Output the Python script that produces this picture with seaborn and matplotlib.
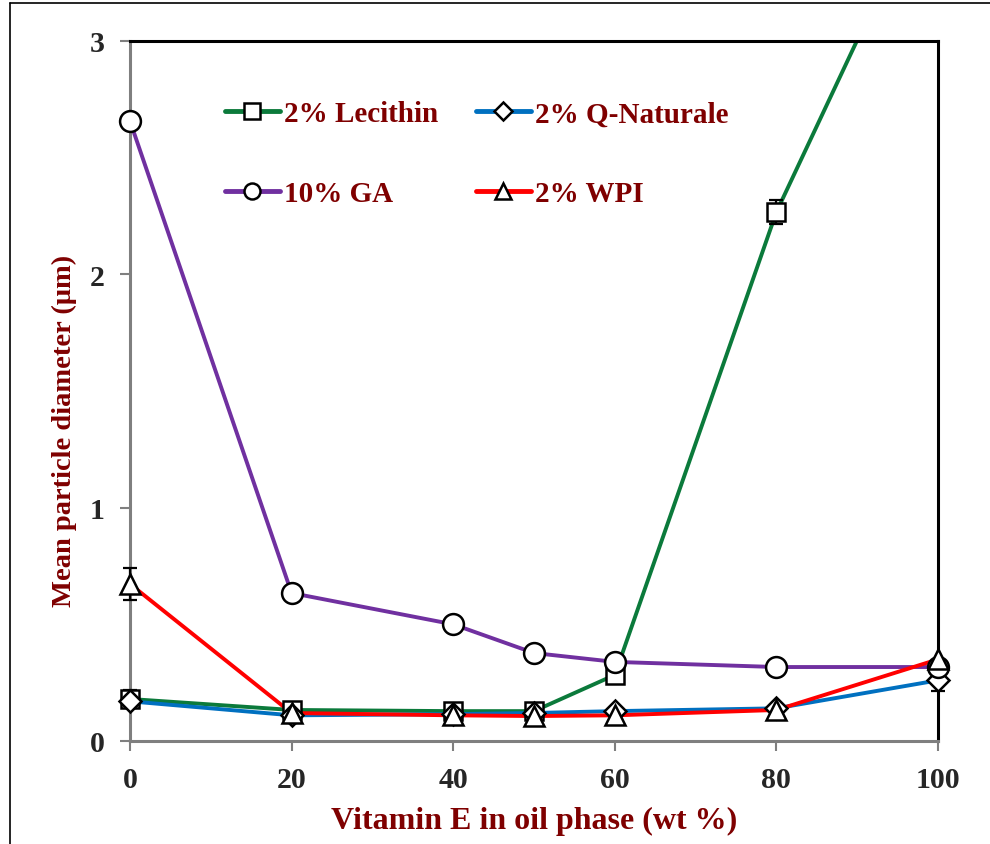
import numpy as np
import pandas as pd
import matplotlib
matplotlib.use("Agg")
import matplotlib.pyplot as plt
import seaborn as sns
from matplotlib.lines import Line2D

# ---- data ----
vitamin_e = [0, 20, 40, 50, 60, 80, 100]
lecithin = [0.18, 0.133, 0.128, 0.128, 0.283, 2.267, 3.74]
q_naturale = [0.17, 0.11, 0.115, 0.12, 0.128, 0.14, 0.26]
ga = [2.657, 0.634, 0.50, 0.377, 0.339, 0.317, 0.317]
wpi = [0.673, 0.12, 0.11, 0.107, 0.11, 0.133, 0.35]

err_lecithin = [0.04, 0.0, 0.0, 0.0, 0.0, 0.05, 0.0]
err_q_naturale = [0.0, 0.0, 0.0, 0.0, 0.0, 0.0, 0.045]
err_ga = [0.0, 0.0, 0.0, 0.0, 0.0, 0.0, 0.0]
err_wpi = [0.07, 0.0, 0.0, 0.0, 0.0, 0.0, 0.0]

series_names = ["2% Lecithin", "2% Q-Naturale", "10% GA", "2% WPI"]
x_ticks = [0, 20, 40, 60, 80, 100]
y_ticks = [0, 1, 2, 3]

sns.set_style("white")
plt.rcParams["font.family"] = ["Liberation Serif", "DejaVu Serif"]
plt.rcParams["font.weight"] = "bold"

fig = plt.figure(figsize=(9.9, 8.45), dpi=100)
ax = fig.add_axes([0.1313, 0.1219, 0.8162, 0.8284])

styles = {
    "2% Lecithin": dict(y=lecithin, err=err_lecithin, color="#0B7A3B", marker="s", ms=13, lms=11),
    "2% Q-Naturale": dict(y=q_naturale, err=err_q_naturale, color="#0070C0", marker="D", ms=11, lms=9),
    "10% GA": dict(y=ga, err=err_ga, color="#7030A0", marker="o", ms=15, lms=11.5),
    "2% WPI": dict(y=wpi, err=err_wpi, color="#FF0000", marker="^", ms=15, lms=11.5),
}
draw_order = ["2% Lecithin", "2% Q-Naturale", "10% GA", "2% WPI"]

for z, name in enumerate(draw_order):
    st = styles[name]
    df = pd.DataFrame({"x": vitamin_e, "y": st["y"]})
    sns.lineplot(data=df, x="x", y="y", ax=ax, color=st["color"], lw=2.8,
                 legend=False, zorder=2 + z)

for z, name in enumerate(draw_order):
    st = styles[name]
    xs = np.array(vitamin_e, dtype=float)
    ys = np.array(st["y"], dtype=float)
    es = np.array(st["err"], dtype=float)
    m = ys <= 3.0
    has = (es > 0) & m
    if has.any():
        ax.errorbar(xs[has], ys[has], yerr=es[has], fmt="none", ecolor="black",
                    elinewidth=1.6, capsize=5, capthick=1.6, zorder=10, clip_on=False)
    ax.plot(xs[m], ys[m], ls="none", marker=st["marker"], ms=st["ms"],
            mfc="white", mec="black", mew=1.8, zorder=11 + z, clip_on=False)

ax.set_xlim(0, 100)
ax.set_ylim(0, 3)
ax.set_xticks(x_ticks)
ax.set_yticks(y_ticks)
ax.set_xticklabels([str(t) for t in x_ticks], fontsize=21.5, fontweight="bold")
ax.set_yticklabels([str(t) for t in y_ticks], fontsize=21.5, fontweight="bold")
ax.tick_params(axis="both", direction="out", length=7, width=1.5, color="#7F7F7F",
               pad=11, bottom=True, left=True)

for side in ["left", "bottom"]:
    ax.spines[side].set_color("#7F7F7F")
    ax.spines[side].set_linewidth(2.2)
for side in ["top", "right"]:
    ax.spines[side].set_color("black")
    ax.spines[side].set_linewidth(2.2)

dark_red = "#7F0000"
ax.set_xlabel("Vitamin E in oil phase (wt %)", fontsize=23, fontweight="bold",
              color=dark_red)
ax.set_ylabel("Mean particle diameter (μm)", fontsize=20.5, fontweight="bold",
              color=dark_red)
ax.xaxis.set_label_coords(0.5, -0.093)
ax.yaxis.set_label_coords(-0.066, 0.444)

handles = []
for name in ["2% Lecithin", "10% GA", "2% Q-Naturale", "2% WPI"]:
    st = styles[name]
    handles.append(Line2D([0], [0], color=st["color"], lw=3.5, marker=st["marker"],
                          ms=st["lms"], mfc="white", mec="black", mew=1.8))
leg = ax.legend(handles=handles, labels=["2% Lecithin", "10% GA", "2% Q-Naturale", "2% WPI"],
                ncol=2, loc="upper left", bbox_to_anchor=(0.103, 0.932), frameon=False,
                prop={"family": "Liberation Serif", "weight": "bold", "size": 21},
                handlelength=1.88, handletextpad=0.14, labelspacing=1.8, columnspacing=1.3,
                borderaxespad=0)
for t in leg.get_texts():
    t.set_color(dark_red)

# outer border lines
fig.add_artist(Line2D([0.0101, 0.0101], [0.0, 0.995], transform=fig.transFigure,
                      color="black", lw=1.2))
fig.add_artist(Line2D([0.0101, 1.0], [0.995, 0.995], transform=fig.transFigure,
                      color="black", lw=1.2))

fig.savefig("out.png", dpi=100)
